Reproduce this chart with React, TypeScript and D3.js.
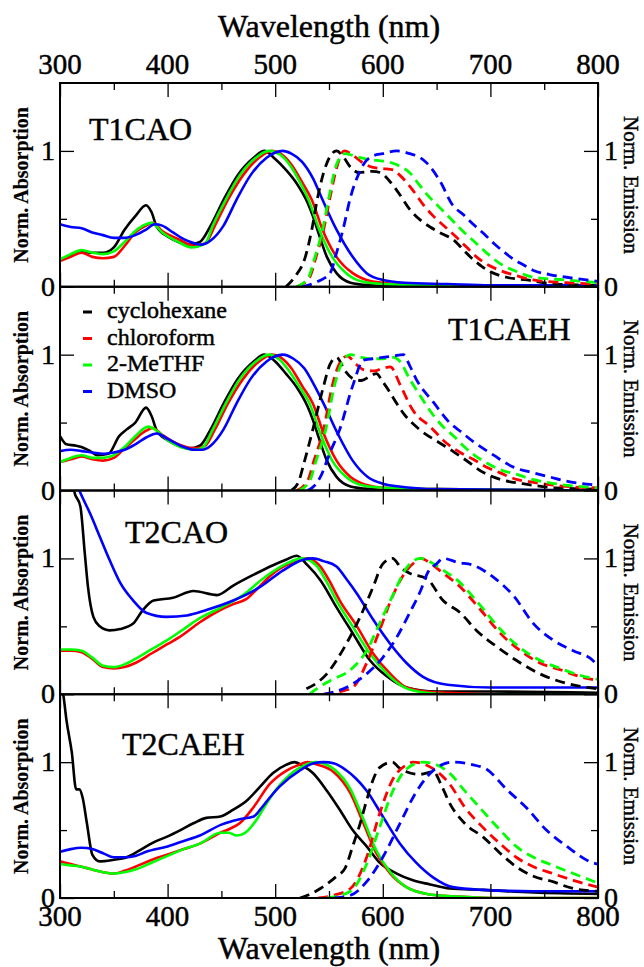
import React, { useEffect, useRef } from "react";
import * as d3 from "d3";

type Pt = [number, number];

// solvents / legend
const solvents = ["cyclohexane", "chloroform", "2-MeTHF", "DMSO"];
const solventColors = ["#000000", "#ff0000", "#00ff00", "#0000ff"];
const panelNames = ["T1CAO", "T1CAEH", "T2CAO", "T2CAEH"];

const xMajor = [300, 400, 500, 600, 700, 800];
const xMinor = [350, 450, 550, 650, 750];
const yMajor = [0, 1];
const yMinor = [0.5];

// === T1CAO ===
const t1caoAbsCyc: Pt[] = [[300,0.20],[310,0.23],[320,0.26],[330,0.25],[340,0.25],[350,0.29],[360,0.42],[370,0.52],[380,0.60],[385,0.55],[390,0.44],[400,0.37],[410,0.33],[420,0.31],[430,0.33],[440,0.45],[452,0.64],[465,0.82],[480,0.95],[490,1.0],[500,0.94],[510,0.86],[520,0.76],[530,0.62],[535,0.52],[540,0.40],[548,0.22],[557,0.10],[570,0.03],[590,0.01],[620,0],[800,0]];
const t1caoAbsChl: Pt[] = [[300,0.19],[310,0.22],[320,0.25],[330,0.22],[340,0.21],[350,0.22],[360,0.30],[370,0.40],[380,0.45],[386,0.47],[395,0.41],[410,0.35],[425,0.30],[435,0.32],[444,0.45],[456,0.64],[470,0.82],[485,0.95],[497,1.0],[505,0.98],[515,0.90],[525,0.77],[534,0.64],[544,0.42],[557,0.22],[572,0.10],[585,0.05],[600,0.03],[650,0.01],[700,0],[800,0]];
const t1caoAbsMe: Pt[] = [[300,0.20],[310,0.24],[320,0.27],[330,0.25],[340,0.24],[350,0.26],[360,0.33],[370,0.41],[380,0.46],[385,0.47],[395,0.40],[410,0.33],[422,0.29],[435,0.32],[442,0.45],[454,0.64],[467,0.82],[482,0.95],[494,1.0],[505,0.97],[515,0.88],[523,0.77],[531,0.64],[541,0.42],[553,0.22],[566,0.10],[580,0.04],[600,0.02],[650,0.01],[800,0]];
const t1caoAbsDmso: Pt[] = [[300,0.46],[310,0.44],[320,0.43],[330,0.40],[340,0.38],[350,0.36],[360,0.36],[370,0.38],[380,0.42],[388,0.46],[395,0.45],[405,0.40],[415,0.35],[425,0.32],[432,0.31],[440,0.34],[452,0.45],[464,0.64],[477,0.82],[492,0.95],[507,1.0],[515,0.98],[525,0.92],[535,0.80],[544,0.64],[557,0.42],[572,0.22],[585,0.10],[600,0.05],[620,0.03],[660,0.02],[700,0.01],[800,0.01]];
const t1caoEmCyc: Pt[] = [[510,0],[518,0.07],[528,0.22],[534,0.42],[539,0.64],[545,0.84],[551,0.96],[557,1.0],[563,0.96],[570,0.88],[578,0.84],[590,0.85],[598,0.84],[606,0.78],[613,0.71],[625,0.57],[635,0.49],[644,0.44],[655,0.39],[665,0.35],[675,0.27],[684,0.20],[692,0.15],[700,0.11],[715,0.07],[734,0.05],[760,0.02],[800,0.01]];
const t1caoEmChl: Pt[] = [[520,0],[532,0.07],[538,0.22],[545,0.42],[551,0.66],[558,0.90],[564,1.0],[572,0.97],[580,0.92],[590,0.88],[600,0.87],[610,0.86],[616,0.82],[628,0.71],[638,0.60],[647,0.52],[658,0.44],[669,0.36],[678,0.29],[687,0.22],[698,0.16],[709,0.12],[725,0.08],[740,0.05],[770,0.03],[800,0.02]];
const t1caoEmMe: Pt[] = [[520,0],[531,0.07],[537,0.22],[544,0.42],[550,0.66],[557,0.90],[565,0.98],[575,0.96],[585,0.94],[595,0.93],[605,0.92],[615,0.89],[625,0.84],[633,0.76],[641,0.68],[652,0.59],[662,0.51],[673,0.42],[684,0.34],[695,0.26],[709,0.17],[725,0.11],[740,0.07],[770,0.05],[800,0.03]];
const t1caoEmDmso: Pt[] = [[525,0],[540,0.04],[551,0.10],[557,0.25],[563,0.42],[570,0.66],[577,0.82],[582,0.90],[590,0.96],[600,0.98],[613,1.0],[625,0.98],[635,0.95],[641,0.91],[653,0.78],[665,0.60],[675,0.53],[684,0.46],[694,0.39],[703,0.32],[712,0.26],[722,0.20],[731,0.16],[740,0.12],[755,0.09],[771,0.07],[800,0.04]];

// === T1CAEH ===
const t1caehAbsCyc: Pt[] = [[300,0.40],[306,0.34],[315,0.33],[320,0.32],[328,0.29],[335,0.26],[345,0.27],[355,0.40],[362,0.45],[370,0.50],[380,0.61],[385,0.55],[390,0.44],[400,0.37],[410,0.33],[420,0.31],[430,0.33],[440,0.45],[452,0.64],[465,0.82],[480,0.95],[490,1.0],[500,0.95],[510,0.86],[520,0.76],[530,0.62],[535,0.52],[540,0.40],[548,0.22],[557,0.10],[570,0.03],[590,0.01],[620,0],[800,0]];
const t1caehAbsChl: Pt[] = [[300,0.21],[310,0.23],[320,0.25],[330,0.23],[340,0.22],[350,0.24],[360,0.31],[370,0.38],[380,0.44],[386,0.46],[395,0.41],[410,0.34],[425,0.31],[435,0.33],[444,0.45],[456,0.64],[470,0.82],[485,0.95],[497,1.0],[505,0.98],[515,0.90],[525,0.77],[535,0.64],[545,0.42],[557,0.22],[570,0.10],[585,0.04],[600,0.02],[650,0.01],[800,0]];
const t1caehAbsMe: Pt[] = [[300,0.21],[310,0.24],[320,0.26],[330,0.24],[340,0.24],[350,0.26],[360,0.32],[370,0.40],[382,0.47],[390,0.44],[400,0.37],[412,0.32],[425,0.30],[433,0.32],[442,0.45],[454,0.64],[467,0.82],[482,0.95],[494,1.0],[503,0.97],[513,0.88],[522,0.77],[532,0.64],[542,0.42],[553,0.22],[566,0.10],[580,0.04],[600,0.02],[650,0.01],[800,0]];
const t1caehAbsDmso: Pt[] = [[300,0.29],[310,0.30],[320,0.29],[330,0.28],[340,0.27],[350,0.28],[360,0.30],[370,0.34],[380,0.39],[390,0.42],[400,0.38],[412,0.33],[425,0.30],[432,0.30],[440,0.33],[452,0.45],[464,0.64],[477,0.82],[492,0.95],[507,1.0],[517,0.97],[527,0.90],[536,0.78],[545,0.64],[558,0.42],[572,0.22],[586,0.10],[600,0.05],[615,0.03],[650,0.01],[800,0]];
const t1caehEmCyc: Pt[] = [[515,0],[522,0.07],[526,0.18],[535,0.45],[545,0.77],[551,0.93],[557,0.98],[565,0.88],[573,0.82],[580,0.81],[588,0.84],[594,0.86],[600,0.80],[606,0.73],[613,0.64],[619,0.57],[634,0.45],[653,0.35],[665,0.29],[676,0.23],[694,0.13],[710,0.08],[730,0.05],[760,0.02],[800,0.01]];
const t1caehEmChl: Pt[] = [[520,0],[530,0.07],[536,0.22],[545,0.45],[553,0.77],[560,0.94],[567,0.99],[575,0.93],[582,0.89],[592,0.88],[600,0.90],[607,0.91],[616,0.78],[628,0.59],[644,0.47],[659,0.35],[672,0.28],[684,0.23],[697,0.17],[709,0.13],[725,0.08],[740,0.06],[770,0.03],[800,0.02]];
const t1caehEmMe: Pt[] = [[522,0],[532,0.07],[538,0.22],[547,0.45],[555,0.77],[562,0.94],[570,1.0],[580,0.98],[590,0.97],[600,0.97],[610,0.98],[616,0.95],[625,0.82],[633,0.72],[641,0.62],[656,0.47],[666,0.40],[676,0.32],[687,0.25],[697,0.20],[710,0.15],[724,0.12],[740,0.08],[760,0.05],[800,0.02]];
const t1caehEmDmso: Pt[] = [[530,0],[537,0.04],[542,0.10],[551,0.28],[560,0.45],[572,0.77],[582,0.96],[590,0.97],[600,0.98],[610,0.99],[619,1.0],[625,0.92],[631,0.82],[647,0.65],[662,0.50],[673,0.43],[684,0.36],[703,0.26],[722,0.17],[740,0.13],[755,0.10],[770,0.07],[800,0.04]];

// === T2CAO ===
const t2caoAbsCyc: Pt[] = [[310,1.7],[313,1.5],[319,1.38],[323,1.04],[326,0.79],[331,0.57],[337,0.50],[346,0.47],[356,0.48],[368,0.52],[377,0.62],[387,0.69],[405,0.71],[424,0.76],[446,0.73],[461,0.80],[480,0.88],[498,0.95],[510,0.99],[520,1.02],[530,0.95],[542,0.84],[557,0.64],[572,0.45],[588,0.25],[604,0.13],[622,0.05],[650,0.02],[700,0.02],[800,0.01]];
const t2caoAbsChl: Pt[] = [[300,0.32],[310,0.32],[320,0.31],[330,0.26],[340,0.20],[350,0.19],[360,0.20],[370,0.23],[385,0.30],[400,0.37],[411,0.42],[430,0.53],[449,0.62],[460,0.66],[473,0.70],[485,0.79],[498,0.89],[510,0.95],[517,0.97],[529,1.0],[542,0.94],[550,0.84],[560,0.69],[576,0.50],[591,0.30],[607,0.15],[622,0.05],[640,0.02],[660,0.01],[700,0],[800,0]];
const t2caoAbsMe: Pt[] = [[300,0.33],[310,0.33],[320,0.32],[330,0.27],[340,0.21],[350,0.20],[360,0.22],[370,0.26],[385,0.33],[400,0.40],[415,0.48],[430,0.56],[450,0.64],[470,0.73],[490,0.86],[510,0.96],[525,1.0],[538,0.95],[547,0.84],[557,0.69],[572,0.50],[588,0.30],[604,0.15],[620,0.05],[640,0.01],[660,0],[800,0]];
const t2caoAbsDmso: Pt[] = [[313,1.6],[318,1.5],[328,1.33],[337,1.16],[346,0.99],[356,0.82],[368,0.69],[380,0.60],[399,0.57],[418,0.58],[436,0.62],[461,0.69],[486,0.79],[507,0.91],[526,0.99],[535,1.0],[545,0.98],[557,0.94],[566,0.85],[576,0.74],[591,0.55],[607,0.37],[622,0.23],[637,0.13],[660,0.07],[700,0.05],[800,0.05]];
const t2caoEmCyc: Pt[] = [[529,0.04],[538,0.08],[548,0.15],[557,0.25],[566,0.37],[579,0.57],[591,0.79],[600,0.96],[609,1.0],[617,0.93],[625,0.89],[641,0.85],[656,0.69],[672,0.60],[687,0.47],[706,0.35],[724,0.25],[746,0.15],[771,0.08],[800,0.04]];
const t2caoEmChl: Pt[] = [[545,0],[560,0.02],[572,0.05],[585,0.23],[597,0.47],[609,0.72],[622,0.91],[631,0.98],[635,1.0],[645,0.96],[653,0.91],[672,0.79],[691,0.62],[709,0.45],[728,0.32],[746,0.23],[765,0.18],[783,0.13],[800,0.10]];
const t2caoEmMe: Pt[] = [[532,0],[535,0.02],[551,0.10],[570,0.18],[585,0.32],[597,0.52],[610,0.74],[622,0.93],[635,1.0],[645,0.97],[653,0.93],[672,0.82],[691,0.65],[709,0.48],[728,0.34],[746,0.25],[765,0.19],[783,0.14],[800,0.11]];
const t2caoEmDmso: Pt[] = [[545,0],[566,0.05],[585,0.15],[600,0.27],[613,0.42],[625,0.60],[635,0.76],[642,0.90],[650,0.96],[656,1.0],[670,0.97],[684,0.95],[703,0.86],[722,0.72],[740,0.52],[758,0.40],[777,0.32],[795,0.25],[800,0.20]];

// === T2CAEH ===
const t2caehAbsCyc: Pt[] = [[300,1.6],[303,1.5],[306,1.31],[311,1.07],[315,0.80],[318,0.80],[321,0.74],[325,0.55],[330,0.32],[337,0.27],[349,0.28],[362,0.30],[374,0.35],[387,0.41],[399,0.45],[412,0.50],[424,0.55],[436,0.59],[449,0.60],[461,0.65],[474,0.72],[486,0.82],[498,0.92],[510,0.98],[518,1.0],[526,0.97],[535,0.92],[548,0.79],[560,0.65],[572,0.50],[585,0.38],[597,0.26],[613,0.18],[628,0.13],[644,0.10],[662,0.07],[693,0.06],[740,0.04],[800,0.03]];
const t2caehAbsChl: Pt[] = [[300,0.27],[310,0.25],[320,0.23],[330,0.21],[340,0.19],[350,0.18],[360,0.20],[370,0.23],[385,0.28],[400,0.32],[415,0.36],[430,0.40],[449,0.48],[458,0.51],[467,0.55],[480,0.67],[495,0.84],[511,0.94],[522,0.98],[530,1.0],[540,0.98],[554,0.93],[570,0.77],[582,0.55],[594,0.33],[607,0.18],[622,0.08],[641,0.03],[670,0.01],[700,0],[800,0]];
const t2caehAbsMe: Pt[] = [[300,0.25],[310,0.24],[320,0.23],[330,0.21],[340,0.19],[350,0.18],[360,0.19],[370,0.21],[385,0.26],[400,0.31],[415,0.36],[430,0.40],[449,0.48],[457,0.48],[464,0.46],[472,0.48],[483,0.58],[490,0.67],[501,0.80],[517,0.93],[528,0.98],[537,1.0],[545,0.99],[556,0.94],[570,0.80],[582,0.58],[594,0.35],[607,0.19],[622,0.08],[641,0.03],[670,0.01],[700,0],[800,0]];
const t2caehAbsDmso: Pt[] = [[300,0.34],[310,0.36],[320,0.37],[330,0.36],[340,0.33],[350,0.30],[360,0.30],[370,0.31],[380,0.34],[400,0.38],[415,0.42],[430,0.46],[450,0.54],[467,0.58],[480,0.60],[486,0.65],[495,0.74],[504,0.82],[523,0.94],[535,0.99],[545,1.0],[555,0.99],[566,0.94],[575,0.88],[585,0.79],[600,0.60],[616,0.40],[631,0.26],[647,0.15],[665,0.08],[693,0.06],[740,0.05],[800,0.05]];
const t2caehEmCyc: Pt[] = [[523,0],[530,0.02],[542,0.07],[557,0.16],[565,0.22],[572,0.38],[579,0.55],[585,0.72],[590,0.85],[597,0.96],[609,1.0],[615,0.96],[622,0.93],[634,0.91],[647,0.93],[655,0.82],[662,0.70],[676,0.55],[693,0.45],[709,0.33],[724,0.23],[740,0.16],[758,0.12],[777,0.07],[800,0.05]];
const t2caehEmChl: Pt[] = [[540,0],[554,0.02],[570,0.07],[585,0.30],[597,0.62],[609,0.87],[622,0.98],[628,1.0],[647,0.95],[662,0.84],[676,0.67],[693,0.52],[709,0.40],[724,0.30],[740,0.23],[758,0.18],[777,0.13],[800,0.08]];
const t2caehEmMe: Pt[] = [[548,0],[570,0.05],[585,0.25],[597,0.52],[610,0.80],[622,0.95],[637,1.0],[650,0.98],[662,0.92],[676,0.79],[693,0.64],[709,0.50],[724,0.38],[740,0.30],[758,0.24],[777,0.18],[800,0.11]];
const t2caehEmDmso: Pt[] = [[555,0],[570,0.02],[585,0.12],[600,0.30],[616,0.55],[631,0.78],[647,0.94],[665,1.0],[684,0.98],[696,0.95],[715,0.80],[734,0.66],[752,0.50],[771,0.38],[795,0.26],[800,0.25]];

const absSeries: Pt[][][] = [
  [t1caoAbsCyc, t1caoAbsChl, t1caoAbsMe, t1caoAbsDmso],
  [t1caehAbsCyc, t1caehAbsChl, t1caehAbsMe, t1caehAbsDmso],
  [t2caoAbsCyc, t2caoAbsChl, t2caoAbsMe, t2caoAbsDmso],
  [t2caehAbsCyc, t2caehAbsChl, t2caehAbsMe, t2caehAbsDmso],
];
const emSeries: Pt[][][] = [
  [t1caoEmCyc, t1caoEmChl, t1caoEmMe, t1caoEmDmso],
  [t1caehEmCyc, t1caehEmChl, t1caehEmMe, t1caehEmDmso],
  [t2caoEmCyc, t2caoEmChl, t2caoEmMe, t2caoEmDmso],
  [t2caehEmCyc, t2caehEmChl, t2caehEmMe, t2caehEmDmso],
];
// label anchor (start x, baseline y) for each panel name
const nameX = [89, 448, 125, 122];
const nameY = [140, 340, 543, 755];

const W = 644;
const H = 967;
const FONT = "Liberation Serif";

export default function App() {
  const ref = useRef<SVGSVGElement>(null);

  useEffect(() => {
    const svg = d3.select(ref.current);
    svg.selectAll("*").remove();

    const left = 60, right = 598, top0 = 83, bottom = 898;
    const ph = (bottom - top0) / 4;

    const x = d3.scaleLinear().domain([300, 800]).range([left, right]);

    // grace-style text is a bit heavier than plain rendering -> thin outline
    const txt = (parent: any, s: string, size: number) =>
      parent.append("text").style("font-family", FONT).style("font-size", `${size}px`)
        .attr("fill", "#000").attr("stroke", "#000").attr("stroke-width", 0.45).text(s);

    panelNames.forEach((name, i) => {
      const top = top0 + i * ph;
      const y = d3.scaleLinear().domain([0, 1.5]).range([top + ph, top]);
      const g = svg.append("g");

      const clipId = `clip-${i}`;
      g.append("clipPath").attr("id", clipId)
        .append("rect").attr("x", left).attr("y", top).attr("width", right - left).attr("height", ph);

      const line = d3.line<Pt>().x(d => x(d[0])).y(d => y(d[1])).curve(d3.curveMonotoneX);
      const plot = g.append("g").attr("clip-path", `url(#${clipId})`);

      absSeries[i].forEach((s, k) => {
        plot.append("path").attr("d", line(s)).attr("fill", "none")
          .attr("stroke", solventColors[k]).attr("stroke-width", 2.6)
          .attr("stroke-linejoin", "round");
      });
      emSeries[i].forEach((s, k) => {
        plot.append("path").attr("d", line(s)).attr("fill", "none")
          .attr("stroke", solventColors[k]).attr("stroke-width", 2.8)
          .attr("stroke-dasharray", "10,6");
      });

      // ticks, pointing inward
      const axes: [any, number, number][] = [
        [d3.axisBottom(x).tickValues(xMajor).tickSize(-14), 0, top + ph],
        [d3.axisBottom(x).tickValues(xMinor).tickSize(-7), 0, top + ph],
        [d3.axisTop(x).tickValues(xMajor).tickSize(-14), 0, top],
        [d3.axisTop(x).tickValues(xMinor).tickSize(-7), 0, top],
        [d3.axisLeft(y).tickValues(yMajor).tickSize(-14), left, 0],
        [d3.axisLeft(y).tickValues(yMinor).tickSize(-7), left, 0],
        [d3.axisRight(y).tickValues(yMajor).tickSize(-14), right, 0],
        [d3.axisRight(y).tickValues(yMinor).tickSize(-7), right, 0],
      ];
      axes.forEach(([ax, tx, ty]) => {
        const a = g.append("g").attr("transform", `translate(${tx},${ty})`).call(ax);
        a.select(".domain").remove();
        a.selectAll("text").remove();
        a.selectAll("line").attr("stroke", "#000").attr("stroke-width", 1.3);
      });

      g.append("rect").attr("x", left).attr("y", top).attr("width", right - left).attr("height", ph)
        .attr("fill", "none").attr("stroke", "#000").attr("stroke-width", 2);

      // y tick labels
      yMajor.forEach(v => {
        txt(g, String(v), 28).attr("x", left - 5).attr("y", y(v) + 9).attr("text-anchor", "end");
        txt(g, String(v), 28).attr("x", right + 6).attr("y", y(v) + 9).attr("text-anchor", "start");
      });

      const cy = top + ph / 2;
      txt(g, "Norm. Absorption", 20).attr("transform", `translate(28,${cy}) rotate(-90)`)
        .attr("text-anchor", "middle").style("font-weight", "bold").attr("stroke-width", 0.2);
      txt(g, "Norm. Emission", 21).attr("transform", `translate(624,${cy}) rotate(90)`)
        .attr("text-anchor", "middle");

      txt(g, name, 32).attr("x", nameX[i]).attr("y", nameY[i]);
    });

    // legend in panel 2
    const leg = svg.append("g");
    solvents.forEach((s, k) => {
      const by = 318 + k * 26.5;
      leg.append("line").attr("x1", 83).attr("x2", 92).attr("y1", by - 6).attr("y2", by - 6)
        .attr("stroke", solventColors[k]).attr("stroke-width", 3);
      txt(leg, s, 24).attr("x", 107).attr("y", by);
    });

    // x tick labels top and bottom
    xMajor.forEach(v => {
      txt(svg, String(v), 29).attr("x", x(v)).attr("y", 74).attr("text-anchor", "middle");
      txt(svg, String(v), 29).attr("x", x(v)).attr("y", 926).attr("text-anchor", "middle");
    });
    txt(svg, "Wavelength (nm)", 32).attr("x", (left + right) / 2).attr("y", 37).attr("text-anchor", "middle");
    txt(svg, "Wavelength (nm)", 32).attr("x", (left + right) / 2).attr("y", 959).attr("text-anchor", "middle");
  }, []);

  return (
    <svg ref={ref} width={W} height={H}
      style={{ position: "absolute", left: 0, top: 0, background: "#fff" }} />
  );
}
